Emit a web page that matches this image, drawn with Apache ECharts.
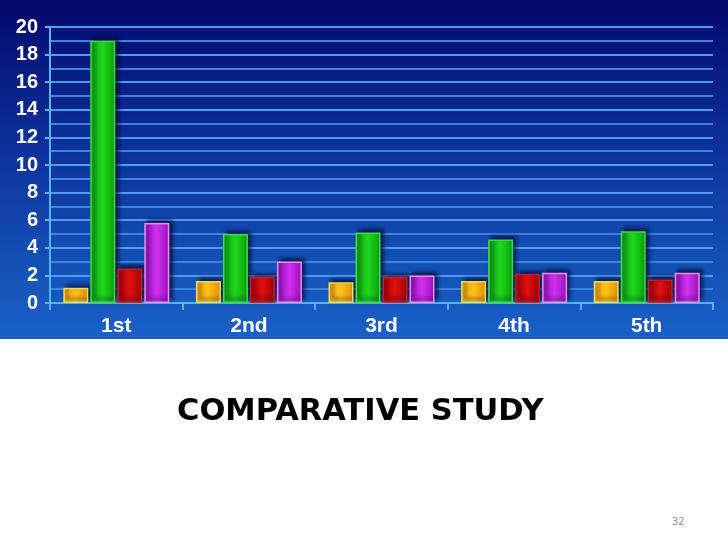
<!DOCTYPE html>
<html><head><meta charset="utf-8">
<script src="https://cdn.jsdelivr.net/npm/echarts@6/dist/echarts.min.js"></script>
<style>html,body{margin:0;padding:0;background:#fff}#c{width:728px;height:546px}</style>
</head><body><div id="c"></div>
<script>
const categories = ['1st','2nd','3rd','4th','5th'];
const seriesOrange = [1.1, 1.6, 1.5, 1.6, 1.6];
const seriesGreen  = [19.0, 5.0, 5.1, 4.6, 5.2];
const seriesRed    = [2.5, 1.9, 1.9, 2.1, 1.7];
const seriesPurple = [5.8, 3.0, 2.0, 2.2, 2.2];
const titleText = 'COMPARATIVE STUDY';
const pageNumber = '32';

function grad(c1, c2, c3){
  return new echarts.graphic.LinearGradient(0,0,1,0,[
    {offset:0,color:c1},{offset:0.5,color:c2},{offset:1,color:c3}]);
}
function bar(name, data, fill, border){
  return {name, type:'bar', data, barWidth:25, barGap:'8%',
    itemStyle:{color:fill, borderColor:border, borderWidth:1.5,
      shadowColor:'rgba(0,0,40,0.7)', shadowBlur:4, shadowOffsetX:3, shadowOffsetY:-3}};
}
const chart = echarts.init(document.getElementById('c'), null, {renderer:'canvas'});
chart.setOption({
  backgroundColor:'#ffffff',
  animation:false,
  graphic:[
    {type:'rect', z:-10, shape:{x:0,y:0,width:728,height:339},
     style:{fill:new echarts.graphic.LinearGradient(0,0,0,1,[
       {offset:0,color:'#02086a'},{offset:0.35,color:'#0a2a92'},{offset:0.8,color:'#1452b8'},{offset:1,color:'#1a60c8'}])}},
    {type:'text', left:177, top:397, style:{text:titleText, font:'bold 30.5px "DejaVu Sans", sans-serif', fill:'#000'}},
    {type:'text', left:672, top:516, style:{text:pageNumber, font:'11px "Open Sans", sans-serif', fill:'#8a8a8a'}}
  ],
  grid:{left:50, right:15, top:27, bottom:243, containLabel:false},
  xAxis:{type:'category', data:categories,
    axisLine:{lineStyle:{color:'#59b4ff', width:2}},
    axisTick:{show:true, length:7, lineStyle:{color:'#59b4ff', width:2}},
    axisLabel:{color:'#fff', fontWeight:'bold', fontSize:21, fontFamily:'Liberation Sans, Arial, sans-serif', margin:13}},
  yAxis:{type:'value', min:0, max:20, interval:2,
    axisLine:{show:true, lineStyle:{color:'#59b4ff', width:2}},
    axisTick:{show:true, length:5, lineStyle:{color:'#59b4ff', width:2}},
    minorTick:{show:false, splitNumber:2},
    axisLabel:{color:'#fff', fontWeight:'bold', fontSize:20, fontFamily:'Liberation Sans, Arial, sans-serif', margin:12},
    splitLine:{show:true, lineStyle:{color:'#4f9cf0', width:2}},
    minorSplitLine:{show:true, lineStyle:{color:'#3d84dc', width:2}},
    splitArea:{show:false}},
  series:[
    bar('A', seriesOrange, grad('#f7a600','#ffc21a','#e88e00'), '#e8e060'),
    bar('B', seriesGreen,  grad('#0fa80f','#1ed81e','#0c9c0c'), '#3ce03c'),
    bar('C', seriesRed,    grad('#b00000','#e01010','#a00000'), '#c02030'),
    bar('D', seriesPurple, grad('#a010c0','#d030f0','#9a10b8'), '#e890f0')
  ]
});
</script></body></html>
